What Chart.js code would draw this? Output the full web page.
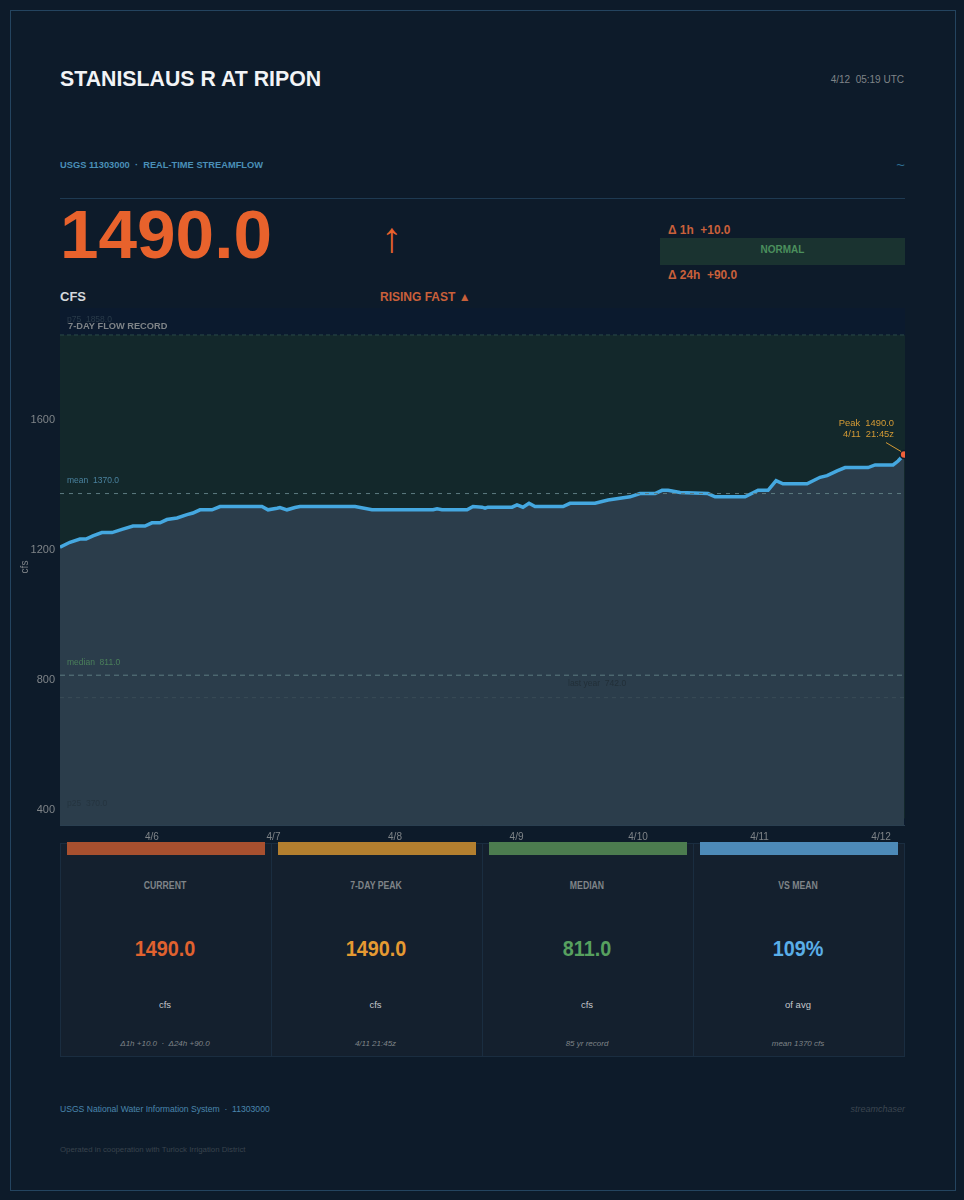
<!DOCTYPE html>
<html>
<head>
<meta charset="utf-8">
<title>Stanislaus R at Ripon</title>
<script src="https://cdn.jsdelivr.net/npm/chart.js@4/dist/chart.umd.min.js"></script>
<style>
  html, body { margin: 0; padding: 0; background: #0d1b2a; }
  body { width: 964px; height: 1200px; position: relative; overflow: hidden; font-family: "Liberation Sans", Arial, sans-serif; }
  .frame { position: absolute; left: 10px; top: 10px; width: 944px; height: 1179px; border: 1px solid #24445f; box-sizing: content-box; }
  .t { position: absolute; white-space: nowrap; line-height: 1; }
  .rule { position: absolute; left: 60px; top: 198px; width: 845px; height: 1px; background: #1e3a52; }
  #flow-wrap { position: absolute; left: 0; top: 290px; width: 964px; height: 560px; }
  .status { position: absolute; left: 660px; top: 238px; width: 245px; height: 27px; background: #1a3330; color: #4b8f5d; font-size: 10px; font-weight: bold; text-align: center; line-height: 24px; }
  .card { position: absolute; top: 843px; height: 212px; width: 210px; background: #14202e; border: 1px solid #1a2d40; text-align: center; }
  .card .bar { position: absolute; left: 6px; right: 6px; top: -2px; height: 13px; }
  .card div { position: absolute; left: 0; right: 2px; line-height: 1; white-space: nowrap; }
  .card .lbl { top: 37px; font-size: 10px; font-weight: bold; color: #7f8488; transform: scaleX(0.87); }
  .card .val { top: 94px; font-size: 22px; font-weight: bold; transform: scaleX(0.9); }
  .card .unit { top: 156px; font-size: 9.5px; color: #c4c8cc; }
  .card .note { top: 196px; font-size: 8px; font-style: italic; color: #7f8488; }
</style>
</head>
<body>
<div class="frame"></div>

<div class="t" style="left:60px;top:69px;font-size:21.3px;font-weight:bold;color:#f2f4f6">STANISLAUS R AT RIPON</div>
<div class="t" style="right:60px;top:75px;font-size:10px;color:#7f8488">4/12&nbsp; 05:19 UTC</div>
<div class="t" style="left:60px;top:161px;font-size:9.3px;font-weight:bold;color:#4a90b8">USGS 11303000 &nbsp;·&nbsp; REAL-TIME STREAMFLOW</div>
<div class="t" style="right:59px;top:157px;font-size:15px;color:#2f6f92">~</div>
<div class="rule"></div>

<div class="t" style="left:60px;top:200px;font-size:69.3px;font-weight:bold;color:#e8622c">1490.0</div>
<div class="t" style="left:381px;top:217px;font-size:42px;color:#e8622c">↑</div>
<div class="t" style="left:668px;top:225px;font-size:11.9px;font-weight:bold;color:#c9603a">Δ 1h&nbsp; +10.0</div>
<div class="status">NORMAL</div>
<div class="t" style="left:668px;top:270px;font-size:11.9px;font-weight:bold;color:#c9603a">Δ 24h&nbsp; +90.0</div>
<div class="t" style="left:60px;top:290px;font-size:13px;font-weight:bold;color:#d4d8dc">CFS</div>
<div class="t" style="left:380px;top:291px;font-size:12px;font-weight:bold;color:#c9603a">RISING FAST ▲</div>

<div id="flow-wrap"><canvas id="flowChart"></canvas></div>

<div id="cards"></div>

<div class="t" style="left:60px;top:1105px;font-size:8.6px;color:#4a86ad">USGS National Water Information System &nbsp;·&nbsp; 11303000</div>
<div class="t" style="right:59px;top:1105px;font-size:9px;font-style:italic;color:#3c4650">streamchaser</div>
<div class="t" style="left:60px;top:1146px;font-size:7.8px;color:#39434d">Operated in cooperation with Turlock Irrigation District</div>

<script>
const flowDays = [
  5.243, 5.325, 5.407, 5.457, 5.514, 5.588, 5.671, 5.753, 5.844, 5.942, 6.0, 6.066, 6.123, 6.206, 6.288, 6.337,
  6.395, 6.494, 6.56, 6.905, 6.955, 7.029, 7.053, 7.111, 7.177, 7.218, 7.671, 7.811, 8.313, 8.346, 8.387, 8.593,
  8.642, 8.716, 8.741, 8.765, 8.963, 9.004, 9.053, 9.103, 9.152, 9.383, 9.44, 9.646, 9.753, 9.934, 10.016, 10.14,
  10.198, 10.247, 10.346, 10.576, 10.634, 10.881, 10.988, 11.07, 11.136, 11.193, 11.391, 11.498, 11.556, 11.638,
  11.704, 11.893, 11.951, 12.016, 12.099, 12.14, 12.19
];
const flowCfs = [
  1205, 1220, 1230, 1230, 1240, 1250, 1250, 1260, 1270, 1270, 1280, 1280, 1290, 1295, 1305, 1310,
  1320, 1320, 1330, 1330, 1320, 1325, 1327, 1320, 1327, 1330, 1330, 1320, 1320, 1323, 1320, 1320,
  1330, 1328, 1325, 1328, 1328, 1335, 1328, 1340, 1330, 1330, 1340, 1340, 1350, 1360, 1370, 1370,
  1380, 1380, 1373, 1370, 1360, 1360, 1380, 1380, 1410, 1400, 1400, 1420, 1425, 1440,
  1450, 1450, 1458, 1458, 1458, 1470, 1490
];

const dayTicks = [6, 7, 8, 9, 10, 11, 12];
const dayLabels = ["4/6", "4/7", "4/8", "4/9", "4/10", "4/11", "4/12"];
const cfsTicks = [400, 800, 1200, 1600];

const P75 = 1858, P25 = 370, MEAN = 1370, MEDIAN = 811, LAST_YEAR = 742;

const refLabels = [
  { text: "p75  1858.0", value: P75, x: 67, dy: -20, color: "#2a3b4a" },
  { text: "mean  1370.0", value: MEAN, x: 67, dy: -17, color: "#4a829f" },
  { text: "median  811.0", value: MEDIAN, x: 67, dy: -17, color: "#4a7f5a" },
  { text: "last year  742.0", value: LAST_YEAR, x: 568, dy: -18, color: "#222f38" },
  { text: "p25  370.0", value: P25, x: 67, dy: -19, color: "#25343f" },
];

const cardRows = [
  { x: 60, label: "CURRENT", value: "1490.0", unit: "cfs", note: "Δ1h +10.0 &nbsp;·&nbsp; Δ24h +90.0", color: "#e0622f", bar: "#a8502f" },
  { x: 270.5, label: "7-DAY PEAK", value: "1490.0", unit: "cfs", note: "4/11 21:45z", color: "#e59a32", bar: "#b37f2f" },
  { x: 482, label: "MEDIAN", value: "811.0", unit: "cfs", note: "85 yr record", color: "#57a05f", bar: "#4c7c4f" },
  { x: 693, label: "VS MEAN", value: "109%", unit: "of avg", note: "mean 1370 cfs", color: "#5aaee8", bar: "#4d8ab8" },
];

document.getElementById("cards").innerHTML = cardRows.map(c => `
  <div class="card" style="left:${c.x}px">
    <span class="bar" style="background:${c.bar}"></span>
    <div class="lbl">${c.label}</div>
    <div class="val" style="color:${c.color}">${c.value}</div>
    <div class="unit">${c.unit}</div>
    <div class="note">${c.note}</div>
  </div>`).join("");

function flatLine(value, color, dash) {
  return {
    data: [{ x: flowDays[0], y: value }, { x: 12.197, y: value }],
    borderColor: color, borderWidth: 1, borderDash: dash, pointRadius: 0, fill: false,
  };
}

const plotExtras = {
  id: "plotExtras",
  beforeDatasetsDraw(chart) {
    const { ctx, chartArea: a } = chart;
    ctx.save();
    ctx.fillStyle = "#0b1a2e";
    ctx.fillRect(a.left, a.top, a.width, a.height);
    ctx.restore();
  },
  afterDraw(chart) {
    const { ctx, chartArea: a, scales } = chart;
    ctx.save();
    ctx.strokeStyle = "#2a3f50";
    ctx.lineWidth = 1;
    ctx.beginPath();
    ctx.moveTo(a.left, a.bottom - 0.5);
    ctx.lineTo(a.right, a.bottom - 0.5);
    ctx.stroke();

    ctx.font = "8.5px 'Liberation Sans', Arial, sans-serif";
    ctx.textBaseline = "top";
    refLabels.forEach(l => {
      ctx.fillStyle = l.color;
      ctx.fillText(l.text, l.x, scales.y.getPixelForValue(l.value) + l.dy);
    });

    ctx.fillStyle = "#7f8488";
    ctx.font = "bold 9.25px 'Liberation Sans', Arial, sans-serif";
    ctx.fillText("7-DAY FLOW RECORD", 68, 322 - 290);

    // peak callout
    const px = scales.x.getPixelForValue(flowDays[flowDays.length - 1]);
    const py = scales.y.getPixelForValue(flowCfs[flowCfs.length - 1]);
    ctx.fillStyle = "#d39a35";
    ctx.font = "9.4px 'Liberation Sans', Arial, sans-serif";
    ctx.textAlign = "right";
    ctx.fillText("Peak  1490.0", 894, py - 36);
    ctx.fillText("4/11  21:45z", 894, py - 25);
    ctx.strokeStyle = "#d39a35";
    ctx.beginPath();
    ctx.moveTo(886, py - 12);
    ctx.lineTo(px - 3, py - 3);
    ctx.stroke();
    ctx.restore();
  }
};

new Chart(document.getElementById("flowChart"), {
  type: "line",
  data: {
    // chart.js paints the first dataset last, so the band goes at the end
    datasets: [
      flatLine(MEAN, "#5d7a80", [4, 5]),
      flatLine(MEDIAN, "#5d7a80", [5, 4]),
      flatLine(LAST_YEAR, "#3a4d57", [4, 4]),
      {
        data: flowDays.map((d, i) => ({ x: d, y: flowCfs[i] })),
        borderColor: "#45a8e0", borderWidth: 3.5, tension: 0, fill: "start",
        backgroundColor: "#2b3d4b",
        pointRadius: flowDays.map((d, i) => i === flowDays.length - 1 ? 4 : 0),
        pointBackgroundColor: "#f0603a", pointBorderColor: "#0d1b2a", pointBorderWidth: 1.5,
      },
      {
        data: [{ x: flowDays[0], y: P75 }, { x: 12.197, y: P75 }],
        borderColor: "#2a4a4a", borderWidth: 1, borderDash: [4, 3], pointRadius: 0,
        backgroundColor: "#13282b", fill: "+1",
      },
      flatLine(P25, "#2a4048", [4, 3]),
    ]
  },
  options: {
    responsive: true,
    maintainAspectRatio: false,
    animation: false,
    layout: { padding: { top: 18, right: 59, left: 19, bottom: 0 } },
    plugins: { legend: { display: false }, tooltip: { enabled: false } },
    scales: {
      x: {
        type: "linear",
        min: flowDays[0],
        max: 12.197,
        grid: { display: false, drawTicks: false },
        border: { display: false },
        afterBuildTicks: axis => { axis.ticks = dayTicks.map(v => ({ value: v })); },
        afterFit: axis => { axis.height = 24; },
        ticks: {
          color: "#7f8488", font: { size: 10, family: "'Liberation Sans', Arial, sans-serif" }, padding: 5, maxRotation: 0,
          callback: v => dayLabels[dayTicks.indexOf(v)],
        },
      },
      y: {
        min: 347,
        max: 1941,
        grid: { display: false, drawTicks: false },
        border: { display: false },
        afterBuildTicks: axis => { axis.ticks = cfsTicks.map(v => ({ value: v })); },
        afterFit: axis => { axis.width = 41; },
        title: { display: true, text: "cfs", color: "#7f8488", font: { size: 10, family: "'Liberation Sans', Arial, sans-serif" }, padding: 0 },
        ticks: {
          color: "#7f8488", font: { size: 11, family: "'Liberation Sans', Arial, sans-serif" }, padding: 5, labelOffset: 1,
          callback: v => String(v),
        },
      },
    },
  },
  plugins: [plotExtras],
});
</script>
</body>
</html>
